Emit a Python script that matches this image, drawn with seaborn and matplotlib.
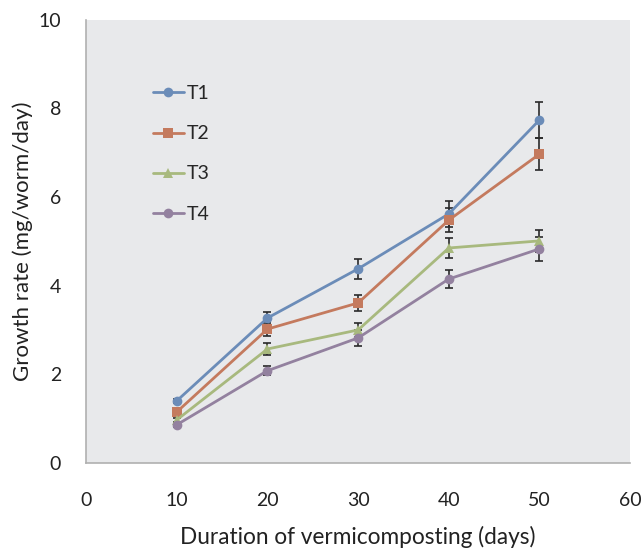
import numpy as np
import pandas as pd
import matplotlib
matplotlib.use("Agg")
import matplotlib.pyplot as plt
import seaborn as sns

# data
days = [10, 20, 30, 40, 50]
treatments = ["T1", "T2", "T3", "T4"]
t1 = [1.40, 3.27, 4.38, 5.62, 7.74]
t2 = [1.15, 3.02, 3.61, 5.48, 6.97]
t3 = [0.97, 2.57, 3.00, 4.85, 5.01]
t4 = [0.86, 2.08, 2.82, 4.15, 4.83]
t1_err = [0.05, 0.14, 0.22, 0.29, 0.40]
t2_err = [0.05, 0.15, 0.18, 0.27, 0.36]
t3_err = [0.05, 0.13, 0.15, 0.23, 0.25]
t4_err = [0.05, 0.10, 0.18, 0.20, 0.27]

colors = ["#6b8cb8", "#c47a5e", "#a8b97e", "#93819f"]
markers = ["o", "s", "^", "o"]

df = pd.DataFrame({
    "day": days * 4,
    "rate": t1 + t2 + t3 + t4,
    "err": t1_err + t2_err + t3_err + t4_err,
    "treatment": [t for t in treatments for _ in days],
})

sns.set_theme(style="white")
plt.rcParams["font.family"] = ["Lato", "DejaVu Sans"]

fig = plt.figure(figsize=(6.43, 5.51), dpi=100)
ax = fig.add_axes([0.134, 0.160, 0.846, 0.804])
ax.set_facecolor("#e8e9eb")

# error bars first so lines/markers sit on top
for t in treatments:
    sub = df[df["treatment"] == t]
    ax.errorbar(sub["day"], sub["rate"], yerr=sub["err"], fmt="none",
                ecolor="#2a2a2a", elinewidth=1.2, capsize=3, capthick=1.2, zorder=2)

sns.lineplot(data=df, x="day", y="rate", hue="treatment", style="treatment",
             palette=colors, markers=markers, dashes=False, linewidth=2,
             markersize=7, markeredgewidth=0, ax=ax, zorder=3)

ax.set_xlim(0, 60)
ax.set_ylim(0, 10)
ax.set_xticks(range(0, 61, 10))
ax.set_yticks(range(0, 11, 2))
ax.tick_params(axis="both", labelsize=14, colors="#222222", length=6,
               width=1, direction="out", color="#a8a8a8")
ax.tick_params(axis="x", pad=15)
ax.tick_params(axis="y", pad=12)
for s in ["top", "right"]:
    ax.spines[s].set_visible(False)
for s in ["left", "bottom"]:
    ax.spines[s].set_color("#b0b0b0")
    ax.spines[s].set_linewidth(1.2)

ax.set_xlabel("Duration of vermicomposting (days)", fontsize=16.3, color="#222222", labelpad=12)
ax.set_ylabel("Growth rate (mg/worm/day)", fontsize=16, color="#222222", labelpad=4)

leg = ax.legend(loc="upper left", bbox_to_anchor=(0.09, 0.892), frameon=False,
                fontsize=14, handlelength=1.6, handletextpad=0.15, labelspacing=1.19,
                title=None)

fig.savefig("out.png", dpi=100)
